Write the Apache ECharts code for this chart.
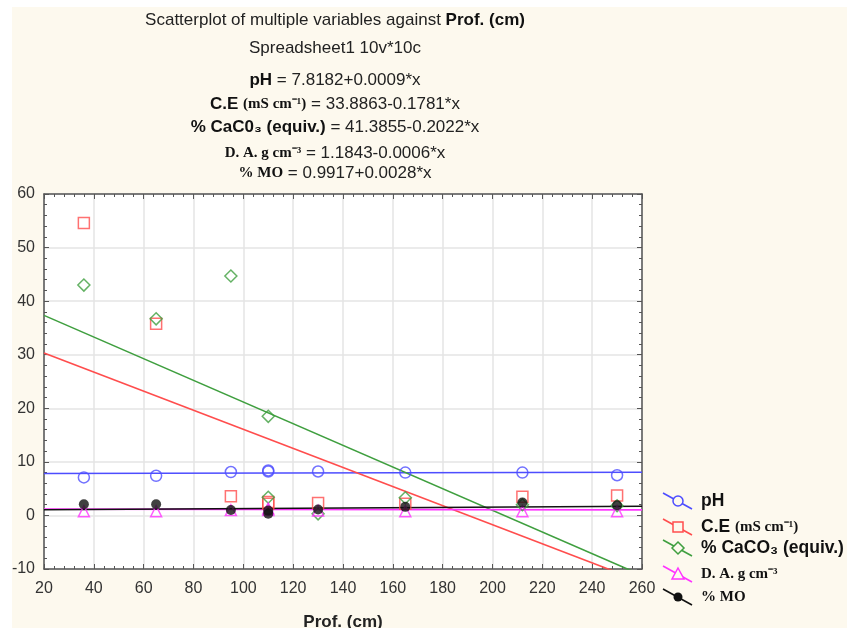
<!DOCTYPE html>
<html>
<head>
<meta charset="utf-8">
<script src="https://cdn.jsdelivr.net/npm/echarts@6/dist/echarts.min.js"></script>
<style>html,body{margin:0;padding:0;background:#fff;}#c{width:849px;height:628px;}</style>
</head>
<body>
<div id="c"></div>
<script>
// ---- data ----
const depth = [36, 65, 95, 110, 110, 130, 165, 212, 250];
const pH = [7.1, 7.4, 8.1, 8.4, 8.2, 8.2, 8.0, 8.0, 7.5];
const CE = [54.6, 35.8, 3.6, 2.5, 2.2, 2.3, 2.2, 3.5, 3.7];
const CaCO3 = [43.0, 36.7, 44.7, 18.5, 3.4, 0.3, 3.3, 2.0, 1.8];
const DA = [0.8, 0.8, 1.0, 1.3, 1.0, 0.9, 0.8, 0.8, 0.8];
const MO = [2.1, 2.1, 1.0, 0.9, 0.3, 1.1, 1.6, 2.4, 1.9];
// regression coefficients (intercept, slope) as printed in the title
const intercepts = [7.8182, 33.8863, 41.3855, 1.1843, 0.9917];
const slopes = [0.0009, -0.1781, -0.2022, -0.0006, 0.0028];
const xTicks = [20, 40, 60, 80, 100, 120, 140, 160, 180, 200, 220, 240, 260];
const yTicks = [-10, 0, 10, 20, 30, 40, 50, 60];

const names = ['pH', 'C.E', 'CaCO3', 'DA', 'MO'];
const values = [pH, CE, CaCO3, DA, MO];
const colors = ['#4d4dff', '#ff4d4d', '#3f9f3f', '#ff33ff', '#111111'];
const symbols = ['circle', 'rect', 'diamond', 'triangle', 'circle'];
const sizes = [11, 11, 12, 11, 10];
const filled = [false, false, false, false, true];

const xMin = xTicks[0], xMax = xTicks[xTicks.length - 1];
const yMin = yTicks[0], yMax = yTicks[yTicks.length - 1];

const series = [];
names.forEach((n, i) => {
  series.push({
    name: n + ' fit', type: 'line', xAxisIndex: 0, yAxisIndex: 0,
    data: [[xMin, intercepts[i] + slopes[i] * xMin], [xMax, intercepts[i] + slopes[i] * xMax]],
    showSymbol: false, clip: true, silent: true,
    lineStyle: { color: colors[i], width: 1.6 }, z: 3
  });
});
names.forEach((n, i) => {
  series.push({
    name: n, type: 'scatter', xAxisIndex: 0, yAxisIndex: 0,
    data: depth.map((d, k) => [d, values[i][k]]),
    symbol: symbols[i], symbolSize: sizes[i],
    itemStyle: filled[i] ? { color: colors[i] } : { color: 'rgba(255,255,255,0)', borderColor: colors[i], borderWidth: 1.5 },
    z: 4
  });
});

const F = 'Arial, "Liberation Sans", sans-serif';
const S = '"Times New Roman", "Liberation Serif", serif';
const tx = 335;
function titleText(y, text, rich) {
  return { type: 'text', x: tx, y: y, silent: true,
    style: { text: text, align: 'center', verticalAlign: 'middle', fill: '#222', font: '17px ' + F, rich: rich } };
}
const richBase = {
  n: { fontFamily: F, fontSize: 17, fill: '#222' },
  b: { fontFamily: F, fontSize: 17, fontWeight: 'bold', fill: '#111' },
  s: { fontFamily: S, fontSize: 15, fontWeight: 'bold', fill: '#111' }
};

// legend (drawn with graphics)
const legY = [501, 527, 548, 574, 597];
const legTexts = [
  '{b|pH}',
  '{b|C.E }{s|(mS cm⁻¹)}',
  '{b|% CaCO₃ (equiv.)}',
  '{s|D. A. g cm⁻³}',
  '{s|% MO}'
];
const legend = [];
names.forEach((n, i) => {
  const cx = 678, cy = legY[i];
  legend.push({ type: 'line', silent: true, shape: { x1: cx - 15, y1: cy - 8, x2: cx + 14, y2: cy + 8 }, style: { stroke: colors[i], lineWidth: 1.5 } });
  const st = filled[i] ? { fill: colors[i] } : { fill: '#fdf9ee', stroke: colors[i], lineWidth: 1.5 };
  if (symbols[i] === 'circle') legend.push({ type: 'circle', silent: true, shape: { cx: cx, cy: cy, r: filled[i] ? 4.5 : 5 }, style: st });
  if (symbols[i] === 'rect') legend.push({ type: 'rect', silent: true, shape: { x: cx - 5, y: cy - 5, width: 10, height: 10 }, style: st });
  if (symbols[i] === 'diamond') legend.push({ type: 'polygon', silent: true, shape: { points: [[cx, cy - 6], [cx + 6, cy], [cx, cy + 6], [cx - 6, cy]] }, style: st });
  if (symbols[i] === 'triangle') legend.push({ type: 'polygon', silent: true, shape: { points: [[cx, cy - 6], [cx + 6, cy + 5], [cx - 6, cy + 5]] }, style: st });
  legend.push({ type: 'text', x: 701, y: cy, silent: true,
    style: { text: legTexts[i], verticalAlign: 'middle', align: 'left', font: 'bold 17.5px ' + F, fill: '#111',
      rich: { b: { fontFamily: F, fontSize: 17.5, fontWeight: 'bold', fill: '#111' }, s: { fontFamily: S, fontSize: 15, fontWeight: 'bold', fill: '#111' } } } });
});

function axisStyle(extra) {
  return Object.assign({
    axisLine: { show: true, onZero: false, lineStyle: { color: '#555', width: 1.5 } },
    axisTick: { show: true, inside: true, length: 5, lineStyle: { color: '#555' } },
    minorTick: { show: true, splitNumber: 5, length: 3, lineStyle: { color: '#555' } }
  }, extra);
}
const option = {
  backgroundColor: '#fdf9ee',
  animation: false,
  grid: { left: 44, right: 207, top: 194, bottom: 59, show: true, backgroundColor: '#ffffff', borderWidth: 0,
    containLabel: false, outerBoundsMode: 'none' },
  xAxis: [
    axisStyle({ type: 'value', min: xMin, max: xMax, interval: 20, position: 'bottom',
      name: 'Prof. (cm)', nameLocation: 'middle', nameGap: 45,
      nameTextStyle: { fontFamily: F, fontSize: 17, fontWeight: 'bold', color: '#222' },
      axisLabel: { fontFamily: F, fontSize: 16, color: '#333', margin: 12 },
      splitLine: { show: true, lineStyle: { color: '#e4e4e4', width: 1.5 } } }),
    axisStyle({ type: 'value', min: xMin, max: xMax, interval: 20, position: 'top',
      axisLabel: { show: false }, splitLine: { show: false } })
  ],
  yAxis: [
    axisStyle({ type: 'value', min: yMin, max: yMax, interval: 10, position: 'left',
      axisLabel: { fontFamily: F, fontSize: 16, color: '#333', margin: 9 },
      splitLine: { show: true, lineStyle: { color: '#e4e4e4', width: 1.5 } } }),
    axisStyle({ type: 'value', min: yMin, max: yMax, interval: 10, position: 'right',
      axisLabel: { show: false }, splitLine: { show: false } })
  ],
  graphic: [
    { type: 'rect', silent: true, shape: { x: 0, y: 0, width: 12, height: 628 }, style: { fill: '#fff' } },
    { type: 'rect', silent: true, shape: { x: 0, y: 0, width: 849, height: 7 }, style: { fill: '#fff' } },
    { type: 'rect', silent: true, shape: { x: 847, y: 0, width: 2, height: 628 }, style: { fill: '#fff' } },
    titleText(20, '{n|Scatterplot of multiple variables against }{b|Prof. (cm)}', richBase),
    titleText(48, '{n|Spreadsheet1 10v*10c}', richBase),
    titleText(80, '{b|pH}{n| = 7.8182+0.0009*x}', richBase),
    titleText(104, '{b|C.E }{s|(mS cm⁻¹)}{n| = 33.8863-0.1781*x}', richBase),
    titleText(127, '{b|% CaC0₃ (equiv.)}{n| = 41.3855-0.2022*x}', richBase),
    titleText(153, '{s|D. A. g cm⁻³}{n| = 1.1843-0.0006*x}', richBase),
    titleText(173, '{s|% MO}{n| = 0.9917+0.0028*x}', richBase)
  ].concat(legend),
  series: series
};
const chart = echarts.init(document.getElementById('c'), null, { renderer: 'canvas' });
chart.setOption(option);
</script>
</body>
</html>
